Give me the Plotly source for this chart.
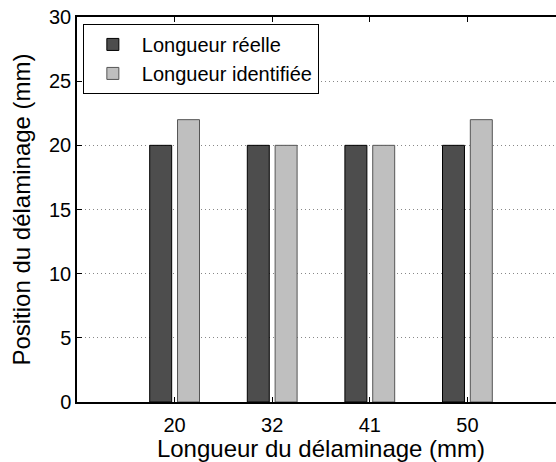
import plotly.graph_objects as go

categories = ["20", "32", "41", "50"]
reelle = [20, 20, 20, 20]
identifiee = [22, 20, 20, 22]
y_ticks = [0, 5, 10, 15, 20, 25, 30]

fig = go.Figure()
fig.add_trace(go.Bar(x=categories, y=reelle, name="Longueur réelle",
                     marker=dict(color="#4d4d4d", line=dict(color="black", width=1))))
fig.add_trace(go.Bar(x=categories, y=identifiee, name="Longueur identifiée",
                     marker=dict(color="#bfbfbf", line=dict(color="#555555", width=1))))

font = "Liberation Sans, Arial, Helvetica, sans-serif"
fig.update_layout(
    width=565, height=462,
    margin=dict(l=77, r=0, t=17, b=60),
    paper_bgcolor="white", plot_bgcolor="white",
    barmode="group", bargap=0.43, bargroupgap=0.21,
    font=dict(family=font, size=20, color="black"),
    legend=dict(x=0.012, y=0.982, xanchor="left", yanchor="top",
                bordercolor="black", borderwidth=1, bgcolor="white",
                font=dict(size=20), tracegroupgap=0, itemwidth=48),
    xaxis=dict(type="category", range=[-1, 4], automargin=False,
               showline=True, linecolor="black", linewidth=1.5, mirror="ticks",
               ticks="inside", ticklen=5, tickcolor="black",
               showgrid=False, zeroline=False, ticklabelstandoff=4,
               title=dict(text="Longueur du délaminage (mm)", font=dict(size=24), standoff=8),
               tickfont=dict(size=20)),
    yaxis=dict(range=[0, 30], tickvals=y_ticks, automargin=False,
               showline=True, linecolor="black", linewidth=1.5,
               ticks="inside", ticklen=5, tickcolor="black",
               showgrid=True, gridcolor="#888888", griddash="1px,3px", gridwidth=1,
               zeroline=False,
               title=dict(text="Position du délaminage (mm)", font=dict(size=24), standoff=12),
               tickfont=dict(size=20)),
)
fig.write_html("out.html", config={"displayModeBar": False},
               post_script="document.body.style.margin='0';document.body.style.overflow='hidden';")
